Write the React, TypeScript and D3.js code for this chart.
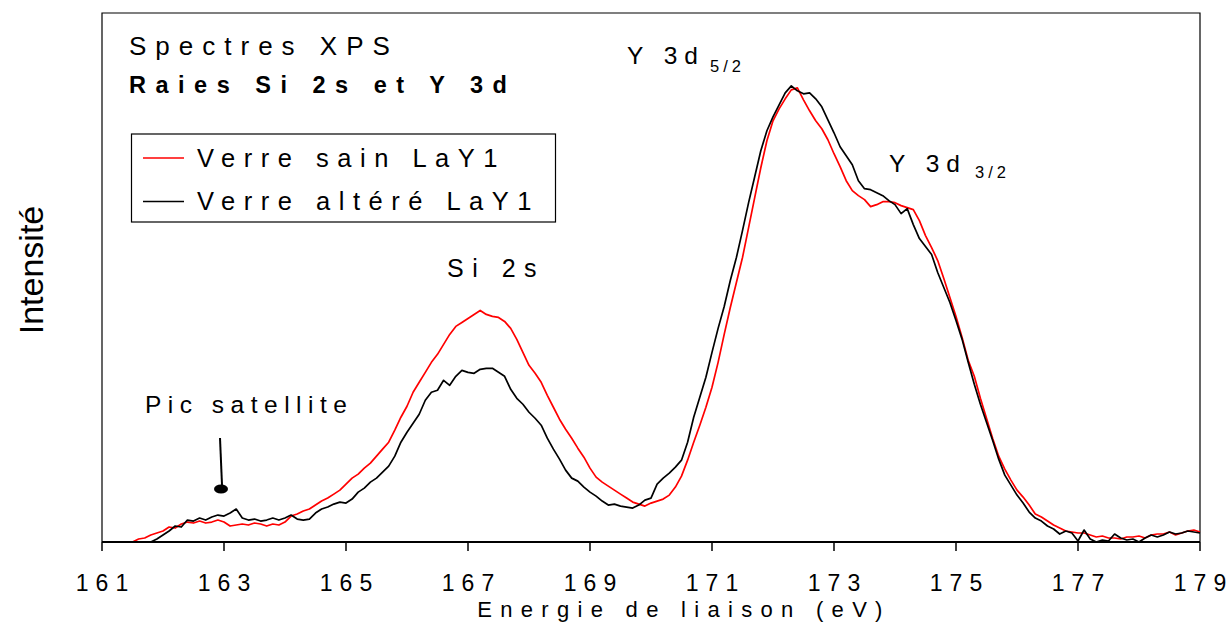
import React from 'react';
import * as d3 from 'd3';

// binding energy grid (eV) and intensities (arb. units)
const xTicks = [161, 163, 165, 167, 169, 171, 173, 175, 177, 179];
const STEP = 0.1;

const sainStart = 161.5;
const sainValues = [
  0, 3, 4, 7, 9, 11, 15, 14, 18, 20, 19, 21, 19, 20, 22, 20, 16, 17, 18, 17,
  19, 18, 16, 18, 17, 20, 26, 28, 31, 33, 37, 41, 44, 48, 52, 58, 64, 68, 74, 79,
  86, 93, 100, 112, 125, 136, 150, 160, 170, 180, 188, 198, 208, 216, 220, 224, 228, 232, 228, 226,
  225, 221, 214, 203, 190, 177, 169, 160, 147, 135, 123, 113, 104, 94, 85, 74, 65, 60, 56, 52,
  48, 44, 40, 38, 36, 39, 41, 43, 47, 55, 66, 82, 100, 117, 135, 155, 180, 208, 235, 260,
  285, 315, 345, 375, 402, 422, 434, 444, 453, 455, 443, 432, 422, 414, 403, 389, 376, 362, 352, 347,
  343, 336, 338, 341, 341, 340, 337, 335, 333, 322, 307, 295, 282, 264, 245, 226, 205, 182, 166, 144,
  124, 104, 86, 73, 62, 52, 45, 37, 28, 25, 21, 17, 14, 11, 10, 9, 9, 7, 5, 6,
  4, 4, 3, 5, 5, 6, 4, 7, 8, 8, 10, 7, 9, 11, 12, 10,
];

const altereStart = 161.8;
const altereValues = [
  0, 3, 7, 11, 16, 15, 22, 21, 24, 22, 25, 27, 26, 29, 33, 24, 22, 23, 21, 22,
  24, 22, 24, 27, 23, 22, 23, 29, 33, 35, 38, 40, 39, 43, 50, 54, 60, 64, 70, 76,
  86, 100, 110, 119, 128, 142, 150, 152, 162, 157, 166, 172, 170, 169, 173, 174, 174, 170, 166, 153,
  144, 138, 130, 124, 117, 104, 93, 83, 72, 64, 61, 55, 50, 46, 41, 37, 38, 36, 35, 34,
  37, 42, 44, 58, 64, 69, 75, 82, 100, 125, 145, 165, 190, 214, 236, 262, 285, 312, 340, 366,
  392, 412, 426, 438, 450, 457, 452, 449, 450, 444, 436, 423, 410, 396, 387, 378, 362, 354, 353, 350,
  347, 342, 338, 329, 334, 318, 304, 296, 288, 270, 255, 240, 222, 203, 180, 158, 138, 120, 102, 83,
  67, 57, 47, 39, 30, 24, 21, 16, 13, 8, 11, 9, 1, 12, 3, 0, 2, 1, 8, 4,
  2, 3, 0, 4, 7, 5, 7, 10, 8, 9, 11, 10, 9,
];

const W = 1229;
const H = 623;
const margin = { left: 102, right: 29, top: 13, bottom: 81 };
const FONT = '"Liberation Sans", Arial, Helvetica, sans-serif';

const toPoints = (start: number, values: number[]): [number, number][] =>
  values.map((v, i) => [start + i * STEP, v]);

// spaced-out label without trailing gap (keeps the last tick label inside the page)
const spaced = (s: string, gap: number) =>
  s.split('').map((c, i) => (
    <tspan key={i} dx={i === 0 ? 0 : gap}>
      {c}
    </tspan>
  ));

const App: React.FC = () => {
  const x = d3.scaleLinear().domain([161, 179]).range([margin.left, W - margin.right]);
  const y = d3.scaleLinear().domain([0, 530]).range([H - margin.bottom, margin.top]);

  const line = d3
    .line<[number, number]>()
    .x(d => x(d[0]))
    .y(d => y(d[1]));

  const sain = toPoints(sainStart, sainValues);
  const altere = toPoints(altereStart, altereValues);

  const x0 = x(161);
  const x1 = x(179);
  const y0 = y(0);
  const yTop = margin.top;

  return (
    <svg
      width={W}
      height={H}
      style={{ position: 'absolute', left: 0, top: 0, background: '#fff' }}
      fontFamily={FONT}
    >
      {/* frame */}
      <path d={`M${x0},${y0}V${yTop}H${x1}V${y0}`} fill="none" stroke="#000" strokeWidth={1.2} />

      {/* curves */}
      <path d={line(sain) ?? ''} fill="none" stroke="#ff0000" strokeWidth={1.7} strokeLinejoin="round" />
      <path d={line(altere) ?? ''} fill="none" stroke="#000" strokeWidth={1.7} strokeLinejoin="round" />

      {/* x axis */}
      <line x1={x0} x2={x1} y1={y0} y2={y0} stroke="#000" strokeWidth={2} />
      {xTicks.map(t => (
        <g key={t}>
          <line x1={x(t)} x2={x(t)} y1={y0} y2={y0 + 9} stroke="#000" strokeWidth={1.5} />
          <text x={x(t)} y={591} textAnchor="middle" fontSize={23}>
            {spaced(String(t), 7)}
          </text>
        </g>
      ))}
      <text x={684} y={617} textAnchor="middle" fontSize={22} letterSpacing={8.3}>
        Energie de liaison (eV)
      </text>

      {/* y label */}
      <text transform="translate(43,270) rotate(-90)" textAnchor="middle" fontSize={34}>
        Intensité
      </text>

      {/* titles */}
      <text x={129} y={55} fontSize={26} letterSpacing={9}>
        Spectres XPS
      </text>
      <text x={129} y={93} fontSize={23.5} fontWeight="bold" letterSpacing={9.5}>
        Raies Si 2s et Y 3d
      </text>

      {/* legend */}
      <rect x={131.5} y={134} width={424} height={88} fill="#fff" stroke="#000" strokeWidth={1.2} />
      <line x1={143} x2={184} y1={158} y2={158} stroke="#ff0000" strokeWidth={1.5} />
      <text x={197} y={167} fontSize={25.5} letterSpacing={8.5}>
        Verre sain LaY1
      </text>
      <line x1={143} x2={184} y1={201.5} y2={201.5} stroke="#000" strokeWidth={1.5} />
      <text x={197} y={210} fontSize={25.5} letterSpacing={8.5}>
        Verre altéré LaY1
      </text>

      {/* peak labels */}
      <text x={627} y={64} fontSize={24.5} letterSpacing={7}>
        Y 3d
      </text>
      <text x={710} y={72} fontSize={16.5} letterSpacing={4}>
        5/2
      </text>
      <text x={889} y={172} fontSize={24.5} letterSpacing={7}>
        Y 3d
      </text>
      <text x={975} y={178} fontSize={16.5} letterSpacing={4}>
        3/2
      </text>
      <text x={447} y={277} fontSize={25} letterSpacing={8.5}>
        Si 2s
      </text>
      <text x={145} y={413} fontSize={24.5} letterSpacing={6.5}>
        Pic satellite
      </text>

      {/* satellite arrow */}
      <line x1={220} y1={438} x2={222} y2={485} stroke="#000" strokeWidth={2} />
      <ellipse cx={221} cy={489} rx={7} ry={4.5} fill="#000" />
    </svg>
  );
};

export default App;
